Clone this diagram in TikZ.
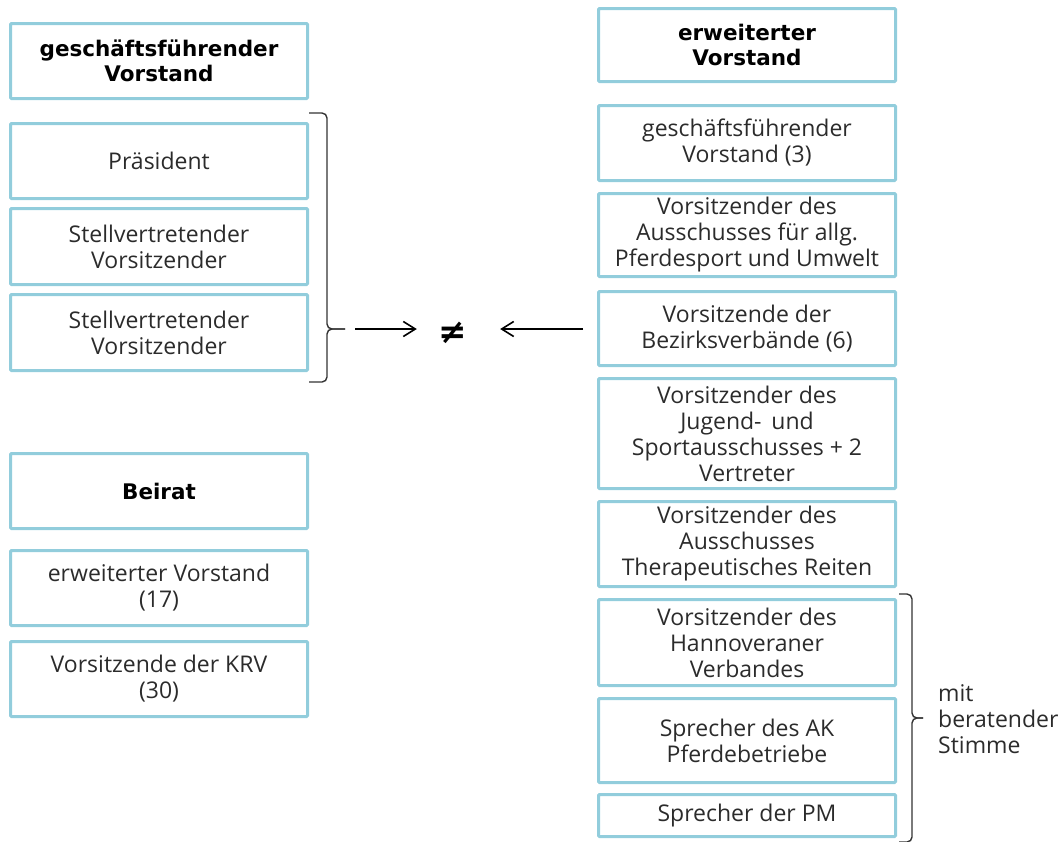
\documentclass[tikz,border=0pt]{standalone}
\usepackage{fontspec}
\newfontfamily\bodyfont{Open Sans}
\newfontfamily\headfont{DejaVu Sans}
\usetikzlibrary{arrows.meta}
\definecolor{boxblue}{HTML}{92CDDC}
\definecolor{txtgrey}{HTML}{2B2B2B}

\begin{document}
\begin{tikzpicture}[x=1pt,y=-1pt,
        box/.style={draw=boxblue,line width=3pt,rounded corners=1pt,minimum width=297pt,
            align=center,inner sep=0pt,text=txtgrey,font=\bodyfont\fontsize{23}{26}\selectfont},
        head/.style={box,text=black,font=\headfont\bfseries\fontsize{21.5}{25}\selectfont},
        brc/.style={line width=1.4pt,draw=black!80,rounded corners=5pt},
        arr/.style={-{Straight Barb[length=12pt,width=15pt]},line width=1.6pt}]
        \useasboundingbox (0,0) rectangle (1059,841);

        \node[head,minimum height=75pt] (gfv) at (159,61) {geschäftsführender\\Vorstand};
        \node[box,minimum height=75pt] (praes) at (159,161) {Präsident};
        \node[box,minimum height=76pt] (stv1) at (159,246.5) {Stellvertretender\\Vorsitzender};
        \node[box,minimum height=76pt] (stv2) at (159,332.5) {Stellvertretender\\Vorsitzender};
        \node[head,minimum height=75pt] (beirat) at (159,491) {Beirat};
        \node[box,minimum height=75pt] (evor) at (159,588) {erweiterter Vorstand\\(17)};
        \node[box,minimum height=75pt] (krv) at (159,679) {Vorsitzende der KRV\\(30)};

        \node[head,minimum height=73pt] (ev) at (747,45) {erweiterter\\Vorstand};
        \node[box,minimum height=75pt] (rgf) at (747,143) {geschäftsführender\\Vorstand (3)};
        \node[box,minimum height=83pt] (allg) at (747,235) {Vorsitzender des\\Ausschusses für allg.\\Pferdesport und Umwelt};
        \node[box,minimum height=74pt] (bez) at (747,328.5) {Vorsitzende der\\Bezirksverbände (6)};
        \node[box,minimum height=110pt] (jug) at (747,433.5) {Vorsitzender des\\Jugend-\, und\\Sportausschusses + 2\\Vertreter};
        \node[box,minimum height=85pt] (ther) at (747,544) {Vorsitzender des\\Ausschusses\\Therapeutisches Reiten};
        \node[box,minimum height=86pt] (hann) at (747,642.5) {Vorsitzender des\\Hannoveraner\\Verbandes};
        \node[box,minimum height=84pt] (ak) at (747,740.5) {Sprecher des AK\\Pferdebetriebe};
        \node[box,minimum height=42pt] (pm) at (747,815.5) {Sprecher der PM};

        \node[inner sep=0pt,minimum width=72pt,font=\headfont\bfseries\fontsize{34}{36}\selectfont] (neq) at (453,333) {≠};
        \node[anchor=west,align=left,inner sep=0pt,text=txtgrey,font=\bodyfont\fontsize{23}{26}\selectfont] (mbs) at (938,719) {mit\\beratender\\Stimme};

        \coordinate (lbt) at (309,113);
        \coordinate (lbb) at (309,382);
        \coordinate (ltip) at (345,329);
        \coordinate (rbt) at (899,594);
        \coordinate (rbb) at (899,842);
        \coordinate (rtip) at (923,718);
        \coordinate (la) at (355,329);
        \coordinate (ra) at (583,329);

        \draw[brc] (lbt) -- (327,113) -- (327,329) -- (ltip);
        \draw[brc] (lbb) -- (327,382) -- (327,329) -- (ltip);
        \draw[brc] (rbt) -- (912,594) -- (912,718) -- (rtip);
        \draw[brc] (rbb) -- (912,842) -- (912,718) -- (rtip);
        \draw[arr] (la) -- (la -| neq.west);
        \draw[arr] (ra) -- ([xshift=11pt]ra -| neq.east);
    \end{tikzpicture}
\end{document}
